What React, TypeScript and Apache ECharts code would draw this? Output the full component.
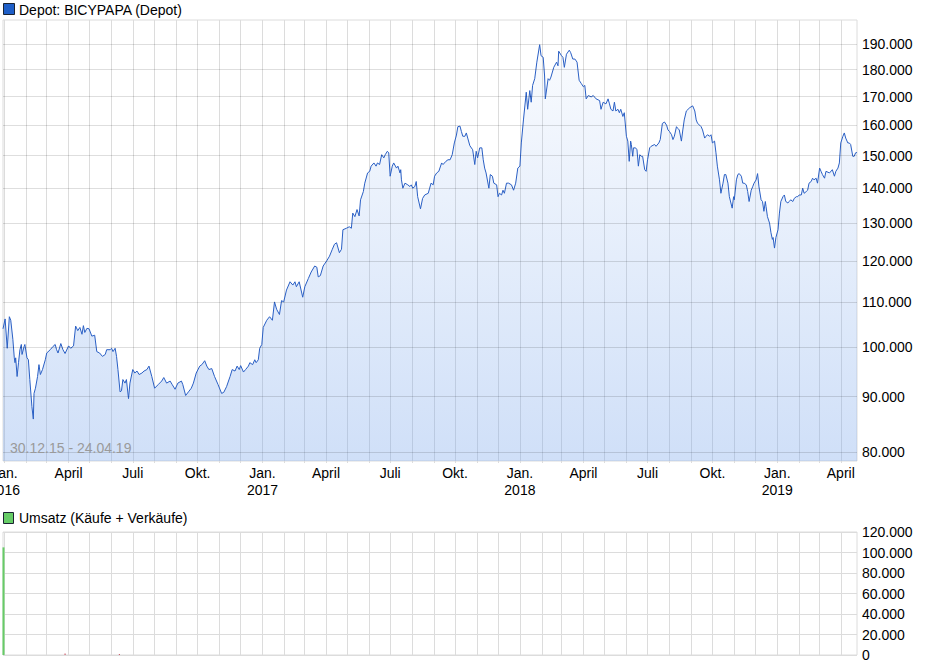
import React, { useEffect, useRef } from 'react';
import * as echarts from 'echarts';

const FONT = '"Liberation Sans", Arial, sans-serif';

// Depot value (EUR)
const dates = [
  '2015-12-30',
  '2016-01-02', '2016-01-05', '2016-01-08', '2016-01-10', '2016-01-13', '2016-01-15', '2016-01-16', '2016-01-17', '2016-01-19', '2016-01-21', '2016-01-23', '2016-01-25', '2016-01-26', '2016-01-29', '2016-01-30',
  '2016-02-02', '2016-02-04', '2016-02-06', '2016-02-09', '2016-02-11', '2016-02-12', '2016-02-14', '2016-02-17', '2016-02-19', '2016-02-21', '2016-02-24', '2016-02-28',
  '2016-03-01', '2016-03-06', '2016-03-10', '2016-03-13', '2016-03-15', '2016-03-17', '2016-03-21', '2016-03-24', '2016-03-27',
  '2016-04-01', '2016-04-04', '2016-04-08', '2016-04-11', '2016-04-14', '2016-04-17', '2016-04-20', '2016-04-22', '2016-04-24', '2016-04-27', '2016-04-30',
  '2016-05-04', '2016-05-08', '2016-05-11', '2016-05-15', '2016-05-19', '2016-05-23', '2016-05-25', '2016-05-30',
  '2016-06-01', '2016-06-03', '2016-06-06', '2016-06-08', '2016-06-10', '2016-06-13', '2016-06-15', '2016-06-17', '2016-06-20', '2016-06-22', '2016-06-25', '2016-06-27',
  '2016-07-01', '2016-07-04', '2016-07-07', '2016-07-10', '2016-07-14', '2016-07-17', '2016-07-21', '2016-07-24', '2016-07-28',
  '2016-08-01', '2016-08-06', '2016-08-11', '2016-08-14', '2016-08-18', '2016-08-23', '2016-08-26', '2016-08-30',
  '2016-09-03', '2016-09-08', '2016-09-10', '2016-09-14', '2016-09-18', '2016-09-22', '2016-09-25', '2016-09-29',
  '2016-10-04', '2016-10-07', '2016-10-11', '2016-10-14', '2016-10-17', '2016-10-21', '2016-10-25', '2016-10-30',
  '2016-11-04', '2016-11-07', '2016-11-11', '2016-11-16', '2016-11-19', '2016-11-23', '2016-11-26', '2016-11-29',
  '2016-12-01', '2016-12-05', '2016-12-08', '2016-12-12', '2016-12-14', '2016-12-18', '2016-12-21', '2016-12-23', '2016-12-26', '2016-12-28', '2016-12-31',
  '2017-01-02', '2017-01-07', '2017-01-11', '2017-01-15', '2017-01-18', '2017-01-21', '2017-01-25', '2017-01-28', '2017-01-31',
  '2017-02-04', '2017-02-09', '2017-02-13', '2017-02-16', '2017-02-18', '2017-02-22', '2017-02-27',
  '2017-03-02', '2017-03-07', '2017-03-11', '2017-03-16', '2017-03-19', '2017-03-21', '2017-03-24', '2017-03-28',
  '2017-04-02', '2017-04-06', '2017-04-10', '2017-04-13', '2017-04-16', '2017-04-20', '2017-04-23', '2017-04-25', '2017-04-30',
  '2017-05-04', '2017-05-07', '2017-05-09', '2017-05-12', '2017-05-15', '2017-05-18', '2017-05-20', '2017-05-24', '2017-05-26', '2017-05-30',
  '2017-06-02', '2017-06-04', '2017-06-08', '2017-06-11', '2017-06-13', '2017-06-16', '2017-06-19', '2017-06-22', '2017-06-24', '2017-06-27', '2017-06-29',
  '2017-07-01', '2017-07-04', '2017-07-06', '2017-07-10', '2017-07-12', '2017-07-15', '2017-07-16', '2017-07-17', '2017-07-19', '2017-07-22', '2017-07-26', '2017-07-29', '2017-07-31',
  '2017-08-02', '2017-08-05', '2017-08-07', '2017-08-09', '2017-08-13', '2017-08-16', '2017-08-19', '2017-08-24', '2017-08-26', '2017-08-28', '2017-08-31',
  '2017-09-02', '2017-09-05', '2017-09-08', '2017-09-12', '2017-09-14', '2017-09-18', '2017-09-21', '2017-09-24', '2017-09-27', '2017-09-30',
  '2017-10-03', '2017-10-05', '2017-10-08', '2017-10-10', '2017-10-12', '2017-10-15', '2017-10-17', '2017-10-19', '2017-10-22', '2017-10-26', '2017-10-29', '2017-10-31',
  '2017-11-02', '2017-11-05', '2017-11-08', '2017-11-10', '2017-11-12', '2017-11-14', '2017-11-18', '2017-11-20', '2017-11-23', '2017-11-25', '2017-11-29',
  '2017-12-01', '2017-12-03', '2017-12-06', '2017-12-08', '2017-12-10', '2017-12-13', '2017-12-16', '2017-12-20', '2017-12-23', '2017-12-26', '2017-12-29',
  '2018-01-01', '2018-01-03', '2018-01-06', '2018-01-10', '2018-01-12', '2018-01-15', '2018-01-17', '2018-01-19', '2018-01-22', '2018-01-25', '2018-01-29', '2018-01-31',
  '2018-02-03', '2018-02-05', '2018-02-06', '2018-02-10', '2018-02-12', '2018-02-14', '2018-02-18', '2018-02-22', '2018-02-24', '2018-02-25',
  '2018-03-01', '2018-03-03', '2018-03-05', '2018-03-08', '2018-03-12', '2018-03-14', '2018-03-17', '2018-03-20', '2018-03-23', '2018-03-26', '2018-03-29',
  '2018-04-01', '2018-04-03', '2018-04-05', '2018-04-08', '2018-04-12', '2018-04-15', '2018-04-19', '2018-04-24', '2018-04-26', '2018-04-29',
  '2018-05-03', '2018-05-06', '2018-05-08', '2018-05-10', '2018-05-13', '2018-05-15', '2018-05-17', '2018-05-20', '2018-05-22', '2018-05-24', '2018-05-27', '2018-05-29',
  '2018-06-01', '2018-06-03', '2018-06-05', '2018-06-07', '2018-06-08', '2018-06-10', '2018-06-11', '2018-06-14', '2018-06-16', '2018-06-18', '2018-06-20', '2018-06-22', '2018-06-24', '2018-06-27', '2018-06-29',
  '2018-07-01', '2018-07-04', '2018-07-06', '2018-07-11', '2018-07-13', '2018-07-17', '2018-07-19', '2018-07-22', '2018-07-25', '2018-07-28', '2018-07-30',
  '2018-08-01', '2018-08-04', '2018-08-06', '2018-08-08', '2018-08-11', '2018-08-13', '2018-08-15', '2018-08-18', '2018-08-20', '2018-08-22', '2018-08-25', '2018-08-30',
  '2018-09-03', '2018-09-06', '2018-09-08', '2018-09-10', '2018-09-13', '2018-09-15', '2018-09-17', '2018-09-20', '2018-09-22', '2018-09-24', '2018-09-27', '2018-09-29',
  '2018-10-01', '2018-10-04', '2018-10-06', '2018-10-08', '2018-10-11', '2018-10-13', '2018-10-16', '2018-10-18', '2018-10-20', '2018-10-23', '2018-10-25', '2018-10-29', '2018-10-31',
  '2018-11-01', '2018-11-04', '2018-11-06', '2018-11-08', '2018-11-11', '2018-11-13', '2018-11-15', '2018-11-18', '2018-11-20', '2018-11-22', '2018-11-25', '2018-11-27', '2018-11-29',
  '2018-12-02', '2018-12-04', '2018-12-06', '2018-12-09', '2018-12-11', '2018-12-13', '2018-12-15', '2018-12-16', '2018-12-18', '2018-12-21', '2018-12-23', '2018-12-25', '2018-12-26', '2018-12-28', '2018-12-30',
  '2019-01-02', '2019-01-04', '2019-01-06', '2019-01-09', '2019-01-11', '2019-01-13', '2019-01-16', '2019-01-18', '2019-01-20', '2019-01-23', '2019-01-25', '2019-01-28', '2019-01-30',
  '2019-02-01', '2019-02-04', '2019-02-06', '2019-02-08', '2019-02-11', '2019-02-13', '2019-02-15', '2019-02-18', '2019-02-20', '2019-02-22', '2019-02-25', '2019-02-27',
  '2019-03-02', '2019-03-04', '2019-03-06', '2019-03-09', '2019-03-11', '2019-03-16', '2019-03-20', '2019-03-23', '2019-03-25', '2019-03-28', '2019-03-30',
  '2019-04-01', '2019-04-04', '2019-04-06', '2019-04-08', '2019-04-11', '2019-04-13', '2019-04-15', '2019-04-18', '2019-04-20', '2019-04-22', '2019-04-24',
];

const depotValues = [
  103900,
  106100, 99700, 106600, 105800, 101600, 97700, 96700, 97700, 93900, 96700, 99400, 100500, 98400, 100100, 100500,
  97700, 97300, 93300, 88100, 85800, 90600, 91600, 93900, 96300, 94300, 95300, 97300,
  98700, 99400, 100100, 100500, 99400, 98700, 100700, 99400, 98600,
  100200, 99700, 100200, 104500, 103500, 104200, 102700, 104600, 103100, 104000, 103900,
  102300, 102500, 99000, 98700, 98000, 98400, 99400, 99400,
  99700, 99000, 99700, 98000, 95300, 90900, 91100, 93300, 92600, 93300, 89600, 92600,
  95300, 94600, 95000, 94300, 94600, 95000, 95300, 96000, 93900,
  91600, 92300, 93000, 93700, 92600, 93000, 92300, 91400,
  92600, 93000, 92300, 90200, 90900, 91600, 92600, 94600,
  96000, 96300, 97100, 96000, 95300, 95500, 93900, 92300,
  90600, 90800, 91900, 93900, 95300, 95000, 96000, 95300,
  96100, 94800, 95300, 96000, 96700, 96300, 97300, 96700, 97300, 99700, 100500,
  104200, 105800, 106600, 105800, 110000, 108300, 107100, 110300, 110000,
  112800, 114800, 114000, 114800, 113600, 114800, 111100,
  113600, 115600, 117200, 118700, 118400, 116000, 116300, 118700,
  120000, 121200, 123000, 124300, 124700, 122100, 123000, 128200, 128600,
  129000, 128600, 132800, 131800, 133800, 132000, 136600, 139000, 141500, 144600,
  145100, 146700, 147700, 146700, 147700, 147200, 150300, 149300, 150300, 151400, 150900,
  143600, 146700, 147700, 146100, 146700, 144600, 145600, 142500, 140000, 141500, 141000, 140500, 141000,
  140000, 140500, 142000, 137500, 134000, 137000, 138000, 138500, 140000, 141500, 141000,
  143600, 144600, 145100, 147700, 147200, 148200, 148700, 148700, 150300, 154100,
  156700, 159500, 159700, 157900, 156300, 156300, 157400, 155700, 153200, 151900, 147200, 151400,
  149300, 152500, 152500, 148700, 146100, 144600, 140000, 144100, 143600, 141500, 141000,
  137500, 138500, 138000, 139400, 138500, 141500, 141500, 141000, 139400, 141500, 146100,
  146700, 154100, 161800, 171600, 165500, 172200, 168000, 174100, 176600, 182900, 189800, 185400,
  184800, 177600, 169200, 176600, 176000, 177200, 180900, 182900, 181500, 187200,
  185400, 184800, 180900, 186000, 187600, 186600, 184100, 184100, 182900, 176000, 174800,
  173600, 174100, 169200, 170400, 169900, 170400, 169200, 168600, 165500, 168000,
  167400, 169200, 167400, 165500, 164900, 168000, 164900, 165500, 164300, 165500, 163000, 164300,
  156300, 154700, 148200, 154700, 153600, 149800, 152500, 152500, 151900, 146700, 150300, 149800, 149800, 145600, 145100,
  148700, 152500, 153000, 153600, 153000, 154100, 155200, 160600, 161100, 160000, 158400,
  157900, 156800, 155200, 156300, 159500, 158900, 158400, 154700, 158400, 161800, 164900, 166100,
  166700, 164900, 161800, 160600, 160000, 159500, 158400, 155700, 156300, 156800, 156300, 156800,
  154100, 154700, 150900, 146700, 142500, 138500, 141500, 144100, 144100, 141500, 137500, 134200, 137500,
  136600, 142500, 144100, 144400, 143600, 141500, 141500, 141000, 139000, 136100, 139400, 140400, 141500,
  142500, 144400, 140400, 136600, 136100, 133300, 136100, 134700, 131800, 130000, 127400, 125600, 126100, 123300, 126100,
  128200, 132800, 136100, 137500, 138000, 136100, 135700, 136100, 136600, 136100, 137000, 137500, 137500,
  138000, 138000, 140000, 138500, 139000, 139400, 141500, 142000, 143000, 142500, 143000, 141500,
  146100, 145100, 144100, 143000, 145100, 144600, 145600, 143600, 145100, 146100, 147700,
  154100, 156300, 157400, 155700, 154100, 154100, 153600, 149800, 149800, 150900, 151000,
];

// Umsatz (EUR)
const buyDates = ['2015-12-30'];
const buyValues = [105000];
const sellDates = ['2016-03-27', '2016-06-12'];
const sellValues = [1500, 800];

const priceTicks = [80000, 90000, 100000, 110000, 120000, 130000, 140000, 150000, 160000, 170000, 180000, 190000];

const monthLines = [
  '2016-01-01', '2016-02-01', '2016-03-01', '2016-04-01', '2016-05-01', '2016-06-01', '2016-07-01', '2016-08-01', '2016-09-01', '2016-10-01', '2016-11-01', '2016-12-01',
  '2017-01-01', '2017-02-01', '2017-03-01', '2017-04-01', '2017-05-01', '2017-06-01', '2017-07-01', '2017-08-01', '2017-09-01', '2017-10-01', '2017-11-01', '2017-12-01',
  '2018-01-01', '2018-02-01', '2018-03-01', '2018-04-01', '2018-05-01', '2018-06-01', '2018-07-01', '2018-08-01', '2018-09-01', '2018-10-01', '2018-11-01', '2018-12-01',
  '2019-01-01', '2019-02-01', '2019-03-01', '2019-04-01',
];

const quarterLabels = [
  '2016-01-01', '2016-04-01', '2016-07-01', '2016-10-01',
  '2017-01-01', '2017-04-01', '2017-07-01', '2017-10-01',
  '2018-01-01', '2018-04-01', '2018-07-01', '2018-10-01',
  '2019-01-01', '2019-04-01',
];

const START = '2015-12-30';
const END = '2019-04-24';

const monthNames: Record<number, string> = { 0: 'Jan.', 3: 'April', 6: 'Juli', 9: 'Okt.' };

const fmtNum = (v: number) => String(Math.round(v)).replace(/\B(?=(\d{3})+(?!\d))/g, '.');

const fmtMonth = (v: number) => {
  const d = new Date(v);
  const m = d.getUTCMonth();
  return m === 0 ? `Jan.\n${d.getUTCFullYear()}` : monthNames[m] || '';
};

const App = () => {
  const chartRef = useRef(null);

  useEffect(() => {
    const chart = echarts.init(chartRef.current, null, { renderer: 'svg' });

    const gridColor = '#dcdcdc';
    const tsMin = Date.parse(START);
    const tsMax = Date.parse(END);
    const monthTs = monthLines.map((d) => Date.parse(d));

    const option = {
      animation: false,
      textStyle: { fontFamily: FONT },
      grid: [
        {
          left: 3, right: 72, top: 20, height: 441,
          containLabel: false, outerBoundsMode: 'none',
          show: true, borderColor: gridColor, borderWidth: 1,
        },
        {
          left: 3, right: 72, top: 532, height: 123,
          containLabel: false, outerBoundsMode: 'none',
          show: true, borderColor: gridColor, borderWidth: 1,
        },
      ],
      xAxis: [
        {
          type: 'value',
          gridIndex: 0,
          min: tsMin,
          max: tsMax,
          axisLine: { show: false },
          axisTick: { show: true, length: 2, lineStyle: { color: gridColor }, customValues: monthTs },
          splitLine: { show: true, lineStyle: { color: gridColor, width: 1 } },
          axisLabel: {
            customValues: quarterLabels.map((d) => Date.parse(d)),
            formatter: fmtMonth,
            color: '#000',
            fontSize: 14,
            lineHeight: 17,
            margin: 3,
            fontFamily: FONT,
          },
        },
        {
          type: 'value',
          gridIndex: 1,
          min: tsMin,
          max: tsMax,
          axisLine: { show: false },
          axisTick: { show: false, customValues: monthTs },
          splitLine: { show: true, lineStyle: { color: gridColor, width: 1 } },
          axisLabel: { show: false },
        },
      ],
      yAxis: [
        {
          type: 'log',
          gridIndex: 0,
          min: 78500,
          max: 200000,
          position: 'right',
          axisLine: { show: false },
          axisTick: { show: false },
          axisLabel: { show: false },
          splitLine: { show: false },
        },
        {
          type: 'value',
          gridIndex: 1,
          min: 0,
          max: 120000,
          interval: 20000,
          position: 'right',
          axisLine: { show: false },
          axisTick: { show: false },
          splitLine: { show: true, lineStyle: { color: gridColor, width: 1 } },
          axisLabel: { formatter: fmtNum, color: '#000', fontSize: 14, margin: 5, fontFamily: FONT },
        },
      ],
      graphic: [
        {
          type: 'rect',
          shape: { x: 3.5, y: 3.5, width: 11, height: 11 },
          style: { fill: '#1f5fc8', stroke: '#1b2433', lineWidth: 1 },
        },
        {
          type: 'text',
          x: 19,
          y: 9.5,
          style: { text: 'Depot: BICYPAPA (Depot)', fontSize: 14, fontFamily: FONT, fill: '#000', verticalAlign: 'middle' },
        },
        {
          type: 'rect',
          shape: { x: 3.5, y: 512.5, width: 10, height: 11 },
          style: { fill: '#66cc66', stroke: '#1b2433', lineWidth: 1 },
        },
        {
          type: 'text',
          x: 19,
          y: 518,
          style: { text: 'Umsatz (Käufe + Verkäufe)', fontSize: 14, fontFamily: FONT, fill: '#000', verticalAlign: 'middle' },
        },
        {
          type: 'text',
          x: 10,
          y: 448,
          z: 10,
          style: { text: '30.12.15 - 24.04.19', fontSize: 14, fontFamily: FONT, fill: '#9a9a9a', verticalAlign: 'middle' },
        },
      ],
      series: [
        {
          name: 'Depot',
          type: 'line',
          xAxisIndex: 0,
          yAxisIndex: 0,
          data: dates.map((d, i) => [Date.parse(d), depotValues[i]]),
          showSymbol: false,
          symbol: 'none',
          lineStyle: { color: '#2a5fc4', width: 1 },
          areaStyle: {
            origin: 'start',
            color: new echarts.graphic.LinearGradient(0, 0, 0, 1, [
              { offset: 0, color: 'rgba(120,165,235,0.06)' },
              { offset: 1, color: 'rgba(120,165,235,0.5)' },
            ]),
          },
          markLine: {
            silent: true,
            symbol: ['none', 'none'],
            lineStyle: { color: 'rgba(0,0,0,0.13)', width: 1, type: 'solid' },
            label: {
              position: 'end',
              distance: 5,
              formatter: (p: any) => fmtNum(p.value),
              color: '#000',
              fontSize: 14,
              fontFamily: FONT,
            },
            emphasis: { disabled: true },
            data: priceTicks.map((v) => ({ yAxis: v })),
          },
        },
        {
          name: 'Käufe',
          type: 'bar',
          xAxisIndex: 1,
          yAxisIndex: 1,
          data: buyDates.map((d, i) => [Date.parse(d), buyValues[i]]),
          barWidth: 2,
          barGap: '-100%',
          clip: false,
          itemStyle: { color: '#66cc66' },
        },
        {
          name: 'Verkäufe',
          type: 'bar',
          xAxisIndex: 1,
          yAxisIndex: 1,
          data: sellDates.map((d, i) => [Date.parse(d), sellValues[i]]),
          barWidth: 1,
          barGap: '-100%',
          barMinHeight: 1,
          clip: false,
          itemStyle: { color: '#c8485a' },
        },
      ],
    };

    chart.setOption(option);

    return () => {
      chart.dispose();
    };
  }, []);

  return (
    <div
      ref={chartRef}
      style={{ position: 'absolute', left: 0, top: 0, width: '929px', height: '671px' }}
    />
  );
};

export default App;
